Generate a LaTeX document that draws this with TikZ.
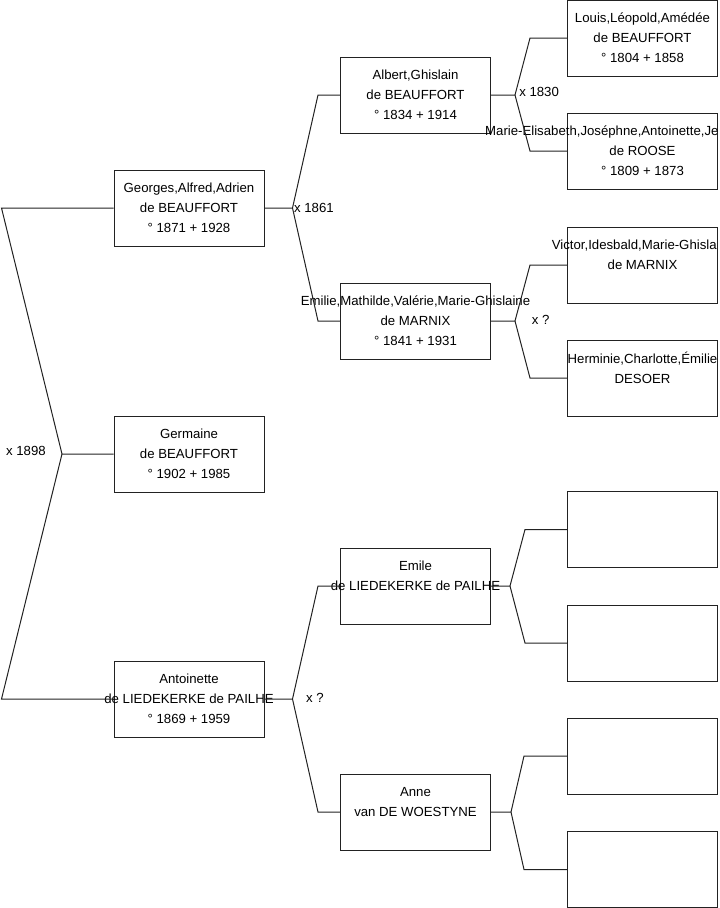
\documentclass[tikz,border=0pt]{standalone}
\usepackage{fontspec}
\setmainfont{Liberation Sans}
\usetikzlibrary{calc,positioning}
\definecolor{ink}{HTML}{222222}
\newcommand\pline[1]{\makebox[0pt]{#1}}

\begin{document}
\begin{tikzpicture}[x=0.75pt,y=-0.75pt,font=\fontsize{9.9}{15}\selectfont,
  person/.style={draw=ink,line width=0.75pt,minimum width=112.5pt,minimum height=57pt,inner sep=0pt,align=center},
  fork/.style={draw=ink,line width=0.75pt},
  wed/.style={inner sep=0pt}]
\useasboundingbox (0,0) rectangle (719,908);
% generation 1
\node[person] (georges) at (189,208) {\pline{Georges,Alfred,Adrien}\\\pline{de BEAUFFORT}\\\pline{° 1871 + 1928}};
\node[person] (germaine) at (189,454) {\pline{Germaine}\\\pline{de BEAUFFORT}\\\pline{° 1902 + 1985}};
\node[person] (antoinette) at (189,699) {\pline{Antoinette}\\\pline{de LIEDEKERKE de PAILHE}\\\pline{° 1869 + 1959}};
% generation 2
\node[person] (albert) at (415.5,95) {\pline{Albert,Ghislain}\\\pline{de BEAUFFORT}\\\pline{° 1834 + 1914}};
\node[person] (emilie) at (415.5,321) {\pline{Emilie,Mathilde,Valérie,Marie-Ghislaine}\\\pline{de MARNIX}\\\pline{° 1841 + 1931}};
\node[person] (emile) at (415.5,586) {\pline{Emile}\\\pline{de LIEDEKERKE de PAILHE}\\\pline{}};
\node[person] (anne) at (415.5,812) {\pline{Anne}\\\pline{van DE WOESTYNE}\\\pline{}};
% generation 3
\node[person] (louis) at (642.5,38) {\pline{Louis,Léopold,Amédée}\\\pline{de BEAUFFORT}\\\pline{° 1804 + 1858}};
\node[person] (marieeli) at (642.5,151) {\pline{\makebox[236pt][l]{Marie-Elisabeth,Joséphne,Antoinette,Je}}\\\pline{de ROOSE}\\\pline{° 1809 + 1873}};
\node[person] (victor) at (642.5,265) {\pline{\makebox[136pt][l]{Victor,Idesbald,Marie-Ghisla}}\\\pline{de MARNIX}\\\pline{}};
\node[person] (herminie) at (642.5,378) {\pline{Herminie,Charlotte,Émilie}\\\pline{DESOER}\\\pline{}};
\node[person] (emilefa) at (642.5,529.5) {};
\node[person] (emilemo) at (642.5,643) {};
\node[person] (annefa) at (642.5,756) {};
\node[person] (annemo) at (642.5,869.5) {};

% marriage forks
\coordinate (m1898) at (62,454);
\draw[fork] (georges.west) -- ++(-112,0) -- (m1898) -- (germaine.west);
\draw[fork] (m1898) -- ($(antoinette.west)+(-112,0)$) -- (antoinette.west);
\node[wed,left=12pt of m1898,yshift=2pt] {x 1898};

\coordinate (m1861) at ($(georges.east)+(28,0)$);
\draw[fork] (georges.east) -- (m1861) -- ($(albert.west)+(-22,0)$) -- (albert.west);
\draw[fork] (m1861) -- ($(emilie.west)+(-22,0)$) -- (emilie.west);
\node[wed,right=1pt of m1861] {x 1861};

\coordinate (m1830) at ($(albert.east)+(24,0)$);
\draw[fork] (albert.east) -- (m1830) -- ($(louis.west)+(-37,0)$) -- (louis.west);
\draw[fork] (m1830) -- ($(marieeli.west)+(-37,0)$) -- (marieeli.west);
\node[wed,right=3pt of m1830,yshift=2pt] {x 1830};

\coordinate (mmarnix) at ($(emilie.east)+(24,0)$);
\draw[fork] (emilie.east) -- (mmarnix) -- ($(victor.west)+(-37,0)$) -- (victor.west);
\draw[fork] (mmarnix) -- ($(herminie.west)+(-37,0)$) -- (herminie.west);
\node[wed,right=12.5pt of mmarnix,yshift=1pt] {x ?};

\coordinate (mliede) at ($(antoinette.east)+(28,0)$);
\draw[fork] (antoinette.east) -- (mliede) -- ($(emile.west)+(-22,0)$) -- (emile.west);
\draw[fork] (mliede) -- ($(anne.west)+(-22,0)$) -- (anne.west);
\node[wed,right=10pt of mliede,yshift=1pt] {x ?};

\coordinate (memile) at ($(emile.east)+(19,0)$);
\draw[fork] (emile.east) -- (memile) -- ($(emilefa.west)+(-42,0)$) -- (emilefa.west);
\draw[fork] (memile) -- ($(emilemo.west)+(-42,0)$) -- (emilemo.west);

\coordinate (manne) at ($(anne.east)+(20,0)$);
\draw[fork] (anne.east) -- (manne) -- ($(annefa.west)+(-43,0)$) -- (annefa.west);
\draw[fork] (manne) -- ($(annemo.west)+(-43,0)$) -- (annemo.west);
\end{tikzpicture}
\end{document}
